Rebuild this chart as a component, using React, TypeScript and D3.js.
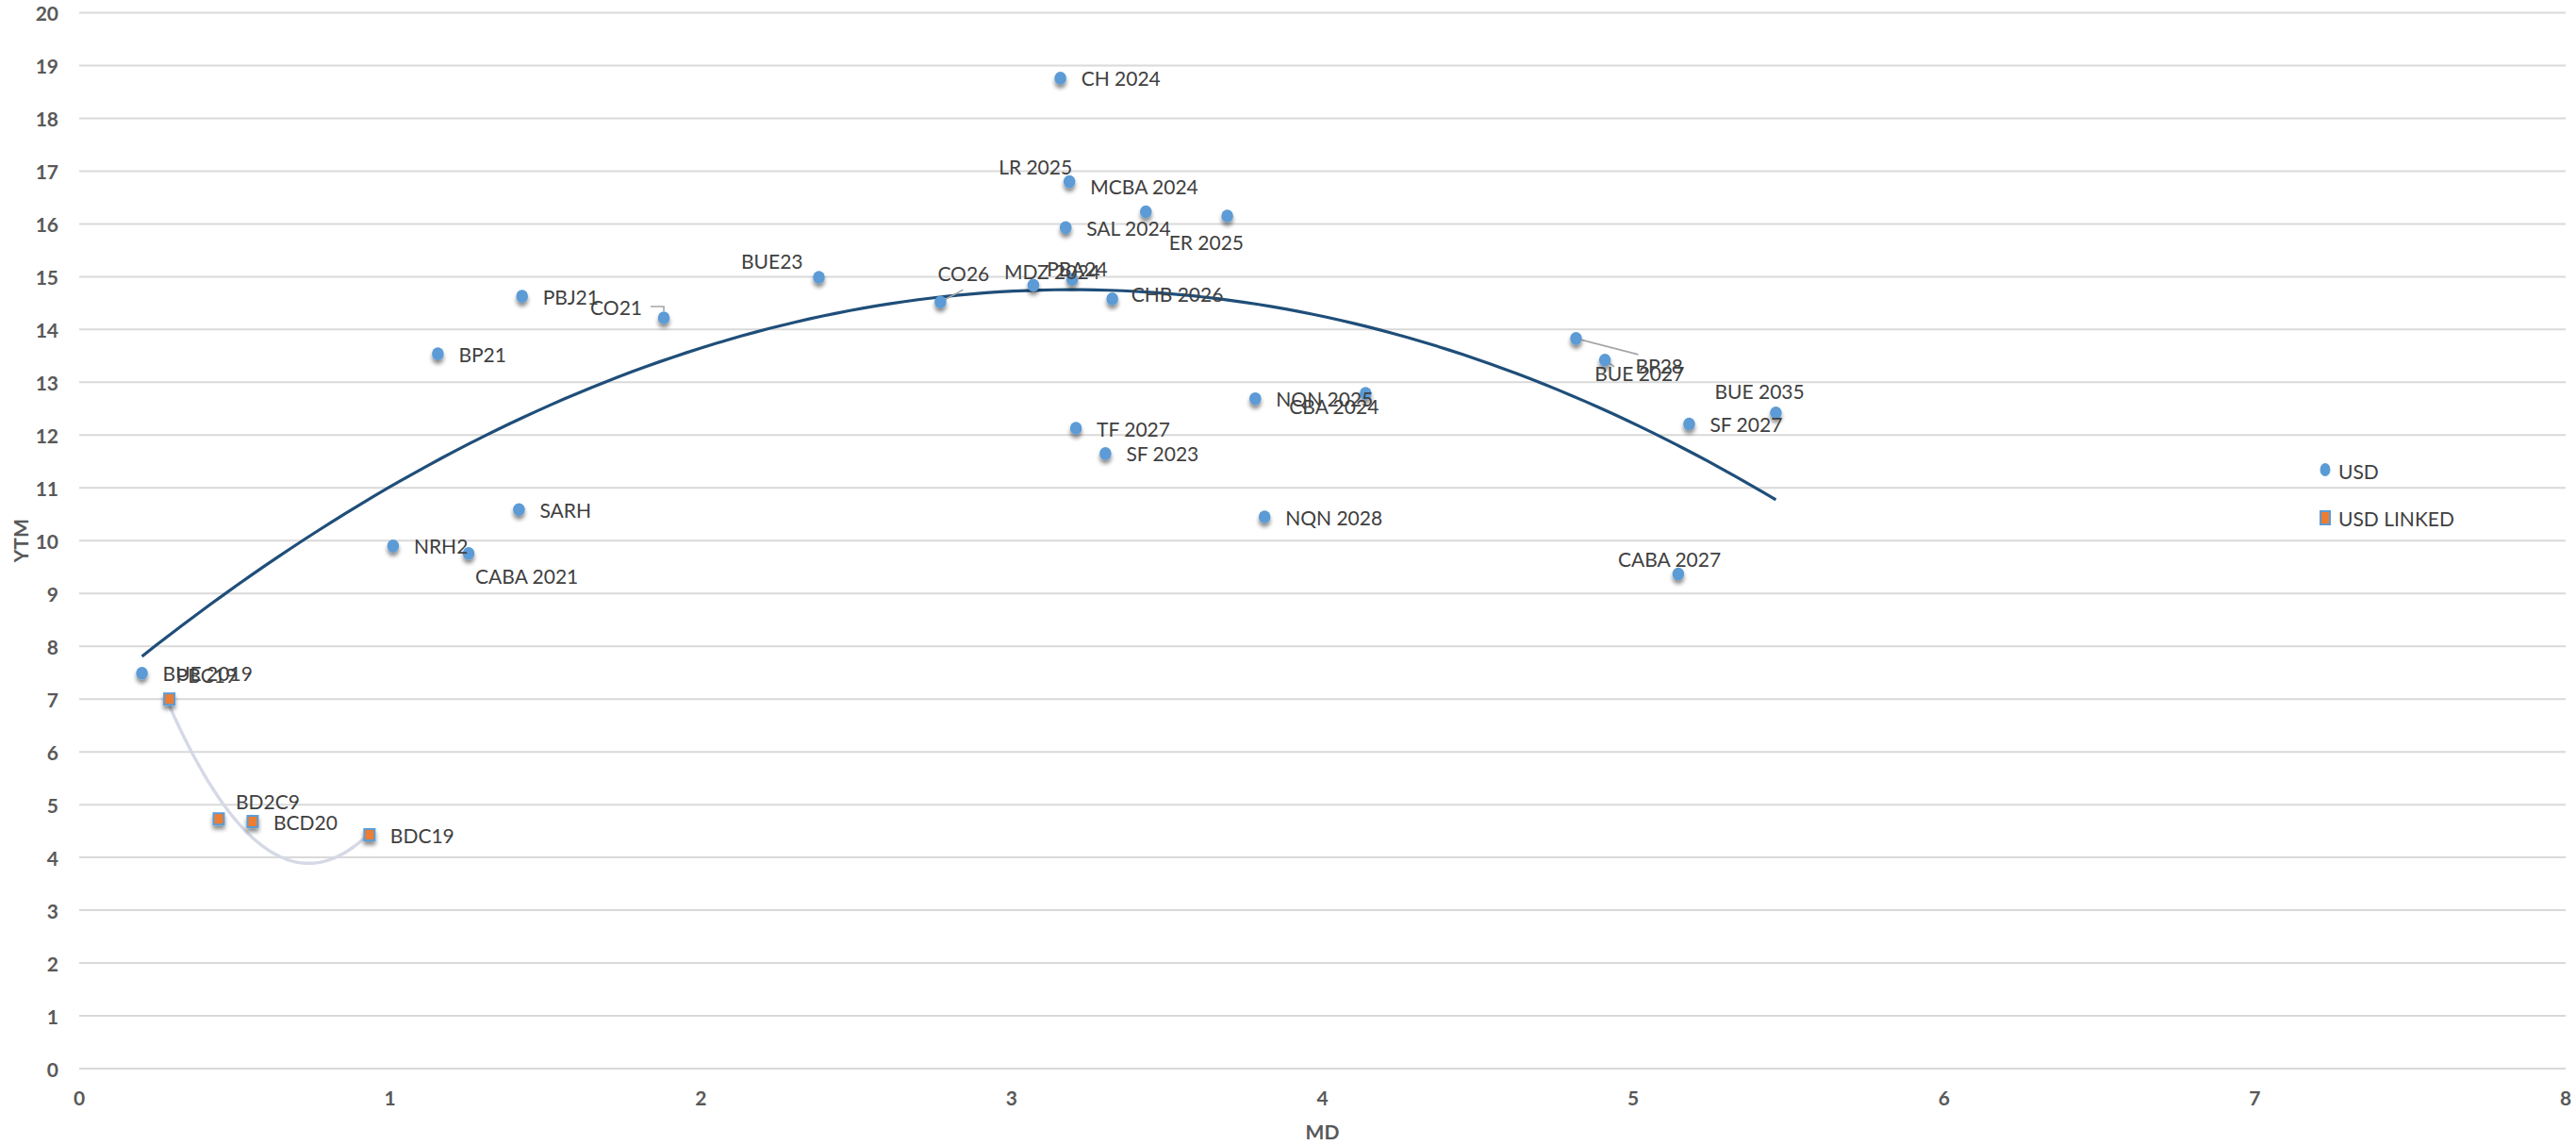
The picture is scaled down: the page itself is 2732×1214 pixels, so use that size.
import React from "react";
import * as d3 from "d3";

// ---- data ----
const usdNames = [
  "CH 2024", "LR 2025", "MCBA 2024", "ER 2025", "SAL 2024", "BUE23", "CO26", "MDZ 2024", "PBA24",
  "CHB 2026", "PBJ21", "CO21", "BP21", "NQN 2025", "CBA 2024", "TF 2027", "SF 2023", "NQN 2028",
  "SARH", "NRH2", "CABA 2021", "BUE 2019", "BP28", "BUE 2027", "BUE 2035", "SF 2027", "CABA 2027",
];
const usdMD = [
  3.157, 3.186, 3.432, 3.694, 3.174, 2.38, 2.771, 3.07, 3.195,
  3.324, 1.425, 1.881, 1.154, 3.784, 4.139, 3.207, 3.302, 3.814,
  1.415, 1.01, 1.253, 0.202, 4.816, 4.909, 5.459, 5.18, 5.145,
];
const usdYTM = [
  18.76, 16.8, 16.23, 16.15, 15.93, 14.99, 14.52, 14.84, 14.95,
  14.58, 14.63, 14.22, 13.54, 12.69, 12.79, 12.13, 11.65, 10.45,
  10.59, 9.9, 9.76, 7.49, 13.83, 13.42, 12.42, 12.21, 9.37,
];
const linkedNames = ["PBC19", "BD2C9", "BCD20", "BDC19"];
const linkedMD = [0.29, 0.449, 0.558, 0.934];
const linkedYTM = [7.0, 4.73, 4.68, 4.43];

const xTicks = [0, 1, 2, 3, 4, 5, 6, 7, 8];
const yTicks = d3.range(0, 21);
const seriesNames = ["USD", "USD LINKED"];

// ---- label placement (layout, not data) ----
type Nudge = { dx: number; dy: number; anchor?: "start" | "end" };
const nudges: Record<string, Nudge> = {
  "LR 2025": { dx: 3, dy: -16, anchor: "end" },
  "MCBA 2024": { dx: -59, dy: -27 },
  "ER 2025": { dx: -62, dy: 27 },
  BUE23: { dx: -17, dy: -17, anchor: "end" },
  CO26: { dx: -3, dy: -31 },
  "MDZ 2024": { dx: -31, dy: -15 },
  PBA24: { dx: -27, dy: -12 },
  "CHB 2026": { dx: 20, dy: -5 },
  CO21: { dx: -23, dy: -12, anchor: "end" },
  "CABA 2021": { dx: 7, dy: 24 },
  "CBA 2024": { dx: -81, dy: 13 },
  BP28: { dx: 63, dy: 29 },
  "BUE 2027": { dx: -11, dy: 14 },
  "BUE 2035": { dx: -65, dy: -23 },
  "CABA 2027": { dx: -64, dy: -16 },
  PBC19: { dx: 7, dy: -26 },
  BD2C9: { dx: 18, dy: -19 },
};
const leaders: Record<string, [number, number][]> = {
  CO26: [[0, 0], [24, -13]],
  BP28: [[0, 0], [66, 17]],
  "BUE 2027": [[0, 0], [10, 7]],
  CO21: [[-14, -12], [0, -12], [0, -7]],
};

// quadratic least-squares fit (Excel polynomial trendline, order 2)
function polyFit2(xs: number[], ys: number[]) {
  const n = xs.length;
  let s1 = 0, s2 = 0, s3 = 0, s4 = 0, t0 = 0, t1 = 0, t2 = 0;
  for (let i = 0; i < n; i++) {
    const x = xs[i], y = ys[i];
    s1 += x; s2 += x * x; s3 += x ** 3; s4 += x ** 4;
    t0 += y; t1 += x * y; t2 += x * x * y;
  }
  const A = [
    [n, s1, s2, t0],
    [s1, s2, s3, t1],
    [s2, s3, s4, t2],
  ];
  for (let i = 0; i < 3; i++) {
    let p = i;
    for (let r = i + 1; r < 3; r++) if (Math.abs(A[r][i]) > Math.abs(A[p][i])) p = r;
    [A[i], A[p]] = [A[p], A[i]];
    for (let r = 0; r < 3; r++) {
      if (r === i) continue;
      const f = A[r][i] / A[i][i];
      for (let c = i; c < 4; c++) A[r][c] -= f * A[i][c];
    }
  }
  const c0 = A[0][3] / A[0][0], c1 = A[1][3] / A[1][1], c2 = A[2][3] / A[2][2];
  return (x: number) => c0 + c1 * x + c2 * x * x;
}

const W = 2732, H = 1214;
const FONT = "Lato, 'Open Sans', sans-serif";

export default function App() {
  const x = d3.scaleLinear().domain([0, 8]).range([84, 2721]);
  const y = d3.scaleLinear().domain([0, 20]).range([1133, 13.5]);

  const trend = (xs: number[], ys: number[]) => {
    const f = polyFit2(xs, ys);
    const [lo, hi] = d3.extent(xs) as [number, number];
    const pts = d3.range(0, 121).map((i) => lo + ((hi - lo) * i) / 120);
    return d3.line<number>().x((v) => x(v)).y((v) => y(f(v)))(pts) || "";
  };

  const usd = usdNames.map((n, i) => ({ name: n, md: usdMD[i], ytm: usdYTM[i] }));
  const linked = linkedNames.map((n, i) => ({ name: n, md: linkedMD[i], ytm: linkedYTM[i] }));

  const label = (d: { name: string; md: number; ytm: number }) => {
    const nd = nudges[d.name] || { dx: 22, dy: 0 };
    const px = x(d.md), py = y(d.ytm);
    return (
      <text
        key={"l" + d.name}
        x={px + nd.dx}
        y={py + nd.dy}
        textAnchor={nd.anchor || "start"}
        dominantBaseline="central"
        fontFamily={FONT}
        fontSize={21}
        fill="#404040"
      >
        {d.name}
      </text>
    );
  };

  const leaderPath = (d: { name: string; md: number; ytm: number }) => {
    const l = leaders[d.name];
    if (!l) return null;
    const px = x(d.md), py = y(d.ytm);
    return (
      <path
        key={"ld" + d.name}
        d={d3.line()(l.map(([a, b]) => [px + a, py + b] as [number, number])) || ""}
        fill="none"
        stroke="#A6A6A6"
        strokeWidth={1.6}
      />
    );
  };

  return (
    <div style={{ position: "absolute", left: 0, top: 0, width: W, height: H, background: "#fff" }}>
      <svg width={W} height={H} viewBox={`0 0 ${W} ${H}`} style={{ display: "block" }}>
        <defs>
          <filter id="shadow" x="-100%" y="-100%" width="300%" height="300%">
            <feDropShadow dx={0} dy={4} stdDeviation={2.2} floodColor="#000" floodOpacity={0.45} />
          </filter>
        </defs>
        <rect width={W} height={H} fill="#fff" />
        {/* gridlines */}
        {yTicks.map((t) => (
          <line key={"g" + t} x1={x(0)} x2={x(8)} y1={y(t)} y2={y(t)} stroke="#D9D9D9" strokeWidth={2} />
        ))}
        {/* y tick labels */}
        {yTicks.map((t) => (
          <text
            key={"yt" + t}
            x={62}
            y={y(t)}
            textAnchor="end"
            dominantBaseline="central"
            fontFamily={FONT}
            fontWeight={700}
            fontSize={21}
            fill="#595959"
          >
            {t}
          </text>
        ))}
        {/* x tick labels */}
        {xTicks.map((t) => (
          <text
            key={"xt" + t}
            x={x(t)}
            y={1163}
            textAnchor="middle"
            dominantBaseline="central"
            fontFamily={FONT}
            fontWeight={700}
            fontSize={21}
            fill="#595959"
          >
            {t}
          </text>
        ))}
        {/* axis titles */}
        <text
          transform={`translate(21,${(y(0) + y(20)) / 2}) rotate(-90)`}
          textAnchor="middle"
          dominantBaseline="central"
          fontFamily={FONT}
          fontWeight={700}
          fontSize={21}
          fill="#595959"
        >
          YTM
        </text>
        <text
          x={(x(0) + x(8)) / 2}
          y={1199}
          textAnchor="middle"
          dominantBaseline="central"
          fontFamily={FONT}
          fontWeight={700}
          fontSize={21}
          fill="#595959"
        >
          MD
        </text>

        {/* trendlines */}
        <path d={trend(usdMD, usdYTM)} fill="none" stroke="#1F4E79" strokeWidth={3.2} />
        <path d={trend(linkedMD, linkedYTM)} fill="none" stroke="#D5D9E6" strokeWidth={3.4} />

        {/* leader lines */}
        {usd.map(leaderPath)}
        {linked.map(leaderPath)}

        {/* USD markers */}
        <g filter="url(#shadow)">
          {usd.map((d) => (
            <ellipse key={"p" + d.name} cx={x(d.md)} cy={y(d.ytm)} rx={6.3} ry={6.8} fill="#5B9BD5" />
          ))}
        </g>
        {/* USD LINKED markers */}
        <g filter="url(#shadow)">
          {linked.map((d) => (
            <rect
              key={"s" + d.name}
              x={x(d.md) - 5.5}
              y={y(d.ytm) - 6}
              width={11}
              height={12}
              fill="#ED7D31"
              stroke="#5B9BD5"
              strokeWidth={2}
            />
          ))}
        </g>

        {/* data labels */}
        {usd.map(label)}
        {linked.map(label)}

        {/* legend */}
        <g>
          <ellipse cx={2466} cy={498} rx={5.5} ry={7} fill="#5B9BD5" />
          <rect x={2461} y={542} width={10} height={14} fill="#ED7D31" stroke="#5B9BD5" strokeWidth={2} />
          {seriesNames.map((s, i) => (
            <text
              key={"lg" + s}
              x={2480}
              y={i === 0 ? 499 : 549}
              dominantBaseline="central"
              fontFamily={FONT}
              fontSize={21}
              fill="#404040"
            >
              {s}
            </text>
          ))}
        </g>
      </svg>
    </div>
  );
}
